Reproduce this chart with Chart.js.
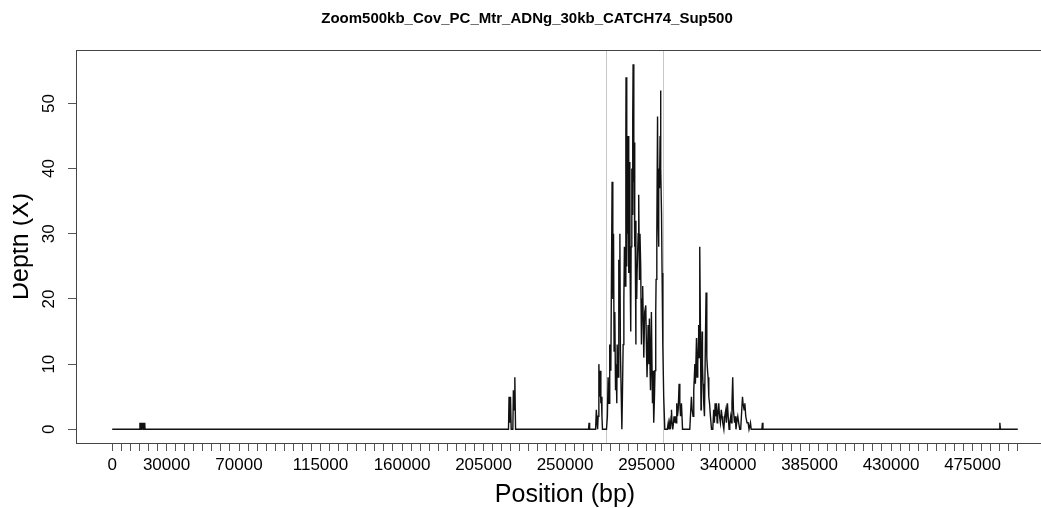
<!DOCTYPE html>
<html>
<head>
<meta charset="utf-8">
<script src="https://cdn.jsdelivr.net/npm/chart.js@4.4.1/dist/chart.umd.min.js"></script>
<style>
  body { margin: 0; overflow: hidden; background: #fff; }
  canvas { display: block; }
</style>
</head>
<body>
<canvas id="chart" width="1130" height="508"></canvas>
<script>
var chartTitle = 'Zoom500kb_Cov_PC_Mtr_ADNg_30kb_CATCH74_Sup500';
var xAxisTitle = 'Position (bp)';
var yAxisTitle = 'Depth (X)';

// coverage (position in bp, depth in X)
var positions = [
  0, 15200,
  15300, 15500, 15700, 15900, 16100, 16300, 16500, 16700, 16900, 17100, 17300, 17500, 17700, 17900, 18000, 18100,
  218800, 219100, 219500, 219900, 220300, 221200, 221500, 221900, 222300, 222700,
  263000, 263300, 263600, 266900, 267300, 267700, 268000, 268300, 268700, 269100, 269400, 269800, 270100, 270400, 270700,
  272900, 273400, 273800, 274300, 274700, 275300, 276000, 276400, 276800, 277100, 277500, 277900, 278200, 278600, 278800,
  279300, 279700, 280100, 280300, 280600, 281000, 281400, 281700, 282100, 282500, 282800, 283200, 283600, 283700,
  284100, 284300, 284700, 284800, 285200, 285400, 285800, 285900, 286300, 286500, 286900, 287000, 287400, 287600,
  288000, 288100, 288500, 288700, 289100, 289200, 289600, 289800, 290400, 290700, 291100, 291400, 291800, 292200,
  292600, 292900, 293300, 293500, 294000, 294600, 295000, 295300, 295900, 296300, 296600, 297000, 297200, 297700,
  298100, 298300, 298600, 299000, 299400, 299700, 300100, 300300, 300700, 301100, 301400, 301600, 301900, 302200,
  302500, 302700, 303000, 303300, 303600, 304000, 304500, 305100,
  306500, 307000, 307400, 307800, 308200, 308600, 308800, 309100, 309500, 309900, 310200, 310600, 311000, 311300,
  311700, 312100, 312500, 313000, 313400, 313800, 314300, 314900,
  318900, 319800, 320200, 320700, 321100, 321700, 322000, 322600, 322900, 323300, 323700, 323800, 324100, 324400,
  324700, 325100, 325300, 325700, 325900, 326200, 326600, 327000, 327600, 327900, 328300, 328700, 329000, 329400,
  329800, 330300, 330900,
  331600, 332100, 332500, 332900, 333200, 333600, 334000, 334300, 334900, 335300, 335800, 336300, 336700, 337100,
  337700, 338200, 338800, 339100, 339700, 340100, 340600, 341000, 341500, 341900, 342200, 342600, 343000, 343600,
  344000, 344400, 344800, 345400, 345900, 346500, 347000, 347600, 348000, 348300, 348900, 349300, 349800, 350500,
  351100, 351600, 352400, 352800,
  358700, 359000, 359300,
  489800, 490100, 490400, 500000
];
var depths = [
  0, 0,
  1, 0, 1, 0, 1, 0, 1, 0, 1, 0, 1, 0, 1, 0, 1, 0,
  0, 5, 1, 5, 0, 0, 6, 3, 8, 0,
  0, 1, 0, 0, 3, 1, 0, 2, 10, 5, 9, 4, 5, 2, 0,
  0, 2, 8, 4, 13, 9, 38, 20, 30, 12, 18, 6, 10, 4, 13,
  8, 26, 18, 30, 12, 6, 0, 5, 13, 20, 28, 22, 45, 54,
  25, 38, 30, 45, 24, 35, 41, 26, 15, 28, 40, 33, 48, 56,
  38, 44, 28, 32, 13, 24, 20, 24, 30, 36, 23, 30, 25, 13,
  20, 22, 15, 11, 18, 19, 12, 8, 16, 10, 17, 9, 6, 18,
  8, 4, 9, 1, 5, 9, 18, 23, 30, 48, 32, 28, 40, 37,
  45, 52, 40, 33, 24, 13, 5, 0,
  0, 1, 0, 1, 0, 2, 3, 1, 0, 1, 2, 1, 2, 1,
  4, 2, 3, 7, 4, 2, 4, 0,
  0, 5, 3, 2, 6, 10, 7, 14, 8, 10, 14, 16, 11, 28,
  18, 3, 7, 15, 10, 7, 4, 2, 15, 21, 11, 9, 8, 5,
  4, 2, 0,
  0, 3, 1, 4, 2, 4, 1, 2, 4, 2, 1, 3, 2, 1,
  0, 2, 3, 1, 4, 2, 0, 1, 2, 1, 4, 8, 3, 1,
  2, 0, 1, 2, 1, 0, 0, 3, 5, 4, 3, 4, 2, 1,
  1, 0, 1, 0,
  0, 1, 0,
  0, 1, 0, 0
];

// bounds of the 30 kb target region (grey lines)
var regionBounds = [272900, 304300];

var xTickLabels = [0, 30000, 70000, 115000, 160000, 205000, 250000, 295000, 340000, 385000, 430000, 475000];
var yTickValues = [0, 10, 20, 30, 40, 50];
var xTickStep = 5000, xTickFirst = 0, xTickLast = 500000;

Chart.defaults.font.family = '"Liberation Sans", Arial, sans-serif';
Chart.defaults.color = '#000';

var framePlugin = {
  id: 'frame',
  beforeDatasetsDraw: function (chart) {
    var ctx = chart.ctx, area = chart.chartArea, xs = chart.scales.x;
    ctx.save();
    ctx.strokeStyle = '#c8c8c8';
    ctx.lineWidth = 1;
    regionBounds.forEach(function (v) {
      var px = Math.round(xs.getPixelForValue(v)) + 0.5;
      ctx.beginPath();
      ctx.moveTo(px, area.top);
      ctx.lineTo(px, area.bottom);
      ctx.stroke();
    });
    ctx.restore();
  },
  afterDraw: function (chart) {
    var ctx = chart.ctx, area = chart.chartArea;
    ctx.save();
    ctx.strokeStyle = '#444';
    ctx.lineWidth = 1;
    ctx.strokeRect(area.left + 0.5, area.top + 0.5, area.right - area.left, area.bottom - area.top);
    // y title, clipped on the left like the original device
    ctx.beginPath();
    ctx.rect(13, 0, area.left, chart.height);
    ctx.clip();
    ctx.translate(28, (area.top + area.bottom) / 2);
    ctx.rotate(-Math.PI / 2);
    ctx.font = '25px "Liberation Sans", Arial, sans-serif';
    ctx.fillStyle = '#000';
    ctx.textAlign = 'center';
    ctx.textBaseline = 'alphabetic';
    ctx.fillText(yAxisTitle, 0, 0);
    ctx.restore();
  }
};

var points = positions.map(function (p, i) { return { x: p, y: depths[i] }; });

var ctx = document.getElementById('chart');
var mychart = new Chart(ctx, {
  type: 'scatter',
  data: {
    datasets: [{
      data: points,
      showLine: true,
      borderColor: '#111',
      borderWidth: 1.4,
      pointRadius: 0,
      tension: 0
    }]
  },
  options: {
    responsive: false,
    animation: false,
    layout: { padding: { left: 0, right: 76, top: 0, bottom: 0 } },
    plugins: {
      legend: { display: false },
      tooltip: { enabled: false },
      title: {
        display: true,
        text: chartTitle,
        font: { size: 15, weight: 'bold' },
        color: '#000',
        padding: { top: 10, bottom: 22 }
      }
    },
    scales: {
      x: {
        type: 'linear',
        min: -20000,
        max: 520000,
        afterBuildTicks: function (scale) {
          var t = [];
          for (var v = xTickFirst; v <= xTickLast; v += xTickStep) t.push({ value: v });
          scale.ticks = t;
        },
        afterFit: function (scale) { scale.height = 65; },
        ticks: {
          autoSkip: false,
          maxRotation: 0,
          minRotation: 0,
          padding: 4,
          font: { size: 17 },
          color: '#000',
          callback: function (value) {
            return xTickLabels.indexOf(value) >= 0 ? String(value) : '';
          }
        },
        grid: {
          drawOnChartArea: false,
          tickLength: 8,
          color: function (c) {
            var v = c.tick ? c.tick.value : -1;
            return (v >= xTickFirst && v <= xTickLast) ? '#555' : 'rgba(0,0,0,0)';
          }
        },
        border: { display: false },
        title: {
          display: true,
          text: xAxisTitle,
          font: { size: 25 },
          color: '#000',
          padding: { top: 0, bottom: -2 }
        }
      },
      y: {
        type: 'linear',
        min: -2.1,
        max: 58.2,
        afterBuildTicks: function (scale) {
          scale.ticks = yTickValues.map(function (v) { return { value: v }; });
        },
        afterFit: function (scale) { scale.width = 76; },
        ticks: {
          minRotation: 90,
          maxRotation: 90,
          crossAlign: 'center',
          padding: 9,
          font: { size: 17 },
          color: '#000'
        },
        grid: { drawOnChartArea: false, tickLength: 8, color: '#555' },
        border: { display: false }
      }
    }
  },
  plugins: [framePlugin]
});
</script>
</body>
</html>
